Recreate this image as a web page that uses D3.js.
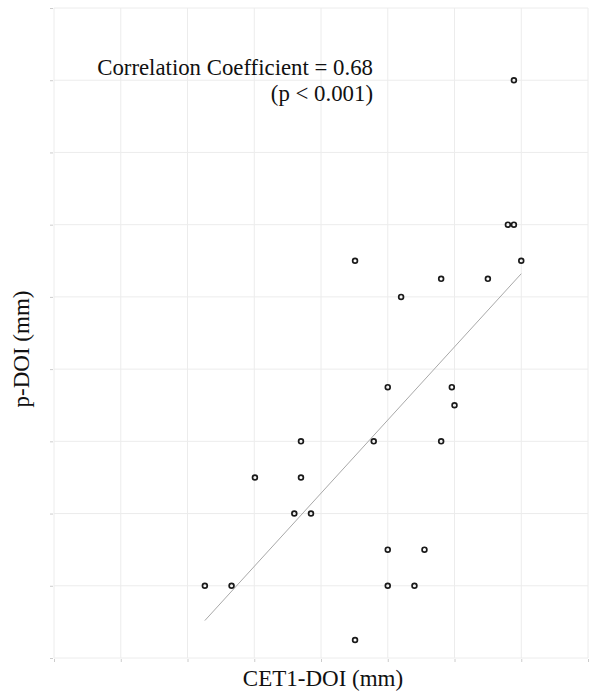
<!DOCTYPE html>
<html>
<head>
<meta charset="utf-8">
<script src="https://cdn.jsdelivr.net/npm/d3@7"></script>
<style>
  body { margin: 0; background: #fff; }
  text { font-family: "Liberation Serif", "Times New Roman", serif; fill: #111; }
</style>
</head>
<body>
<svg id="chart" width="589" height="691"></svg>
<script>
// values (grid units, no tick labels shown)
var cet1 = [6.89, 6.80, 6.89, 7.00, 4.51, 5.80, 6.50, 5.20, 5.00, 5.96, 6.00, 3.70, 4.79,
            5.80, 3.01, 3.70, 3.60, 3.85, 5.00, 5.55, 5.00, 5.40, 4.51, 2.26, 2.66];
var pdoi = [8.00, 6.00, 6.00, 5.50, 5.50, 5.25, 5.25, 5.00, 3.75, 3.75, 3.50, 3.00, 3.00,
            3.00, 2.50, 2.50, 2.00, 2.00, 1.50, 1.50, 1.00, 1.00, 0.25, 1.00, 1.00];
var xTicks = [0, 1, 2, 3, 4, 5, 6, 7, 8];
var yTicks = [0, 1, 2, 3, 4, 5, 6, 7, 8, 9];
var corrText = ["Correlation Coefficient = 0.68", "(p < 0.001)"];

var svg = d3.select("#chart");
var margin = {left: 54, right: 1, top: 8, bottom: 33};
var W = 589, H = 691;

var x = d3.scaleLinear().domain([0, 8]).range([margin.left, W - margin.right]);
var y = d3.scaleLinear().domain([0, 9]).range([H - margin.bottom, margin.top]);

// grid
var grid = svg.append("g");
grid.selectAll(".vx").data(xTicks).enter().append("line")
  .attr("x1", d => x(d)).attr("x2", d => x(d))
  .attr("y1", y(0)).attr("y2", y(9))
  .attr("stroke", "#ececec").attr("stroke-width", 1);
grid.selectAll(".hy").data(yTicks).enter().append("line")
  .attr("y1", d => y(d)).attr("y2", d => y(d))
  .attr("x1", x(0)).attr("x2", x(8))
  .attr("stroke", "#ececec").attr("stroke-width", 1);

// tiny axis ticks, no labels
var xAxis = svg.append("g").attr("transform", "translate(0," + (y(0) + 1) + ")")
  .call(d3.axisBottom(x).tickValues(xTicks).tickSize(3).tickFormat(""));
var yAxis = svg.append("g").attr("transform", "translate(" + (x(0) - 1) + ",0)")
  .call(d3.axisLeft(y).tickValues(yTicks).tickSize(3).tickFormat(""));
[xAxis, yAxis].forEach(function(a) {
  a.select(".domain").remove();
  a.selectAll(".tick line").attr("stroke", "#ccc");
});

// least squares fit
var mx = d3.mean(cet1), my = d3.mean(pdoi);
var sxy = d3.sum(cet1, (d, i) => (d - mx) * (pdoi[i] - my));
var sxx = d3.sum(cet1, d => (d - mx) * (d - mx));
var b = sxy / sxx, a0 = my - b * mx;
var ext = d3.extent(cet1);
svg.append("line")
  .attr("x1", x(ext[0])).attr("y1", y(a0 + b * ext[0]))
  .attr("x2", x(ext[1])).attr("y2", y(a0 + b * ext[1]))
  .attr("stroke", "#a8a8a8").attr("stroke-width", 1);

// points
svg.selectAll(".pt").data(cet1).enter().append("circle")
  .attr("cx", d => x(d))
  .attr("cy", (d, i) => y(pdoi[i]))
  .attr("r", 2.4)
  .attr("fill", "none")
  .attr("stroke", "#1a1a1a")
  .attr("stroke-width", 1.7);

// annotation
svg.selectAll(".corr").data(corrText).enter().append("text")
  .attr("x", 373)
  .attr("y", (d, i) => 75 + i * 26)
  .attr("text-anchor", "end")
  .style("font-size", "22.8px")
  .text(d => d);

// axis titles
svg.append("text")
  .attr("x", 323).attr("y", 686)
  .attr("text-anchor", "middle")
  .style("font-size", "23px")
  .text("CET1-DOI (mm)");
svg.append("text")
  .attr("transform", "translate(29,349) rotate(-90)")
  .attr("text-anchor", "middle")
  .style("font-size", "23px")
  .text("p-DOI (mm)");
</script>
</body>
</html>
